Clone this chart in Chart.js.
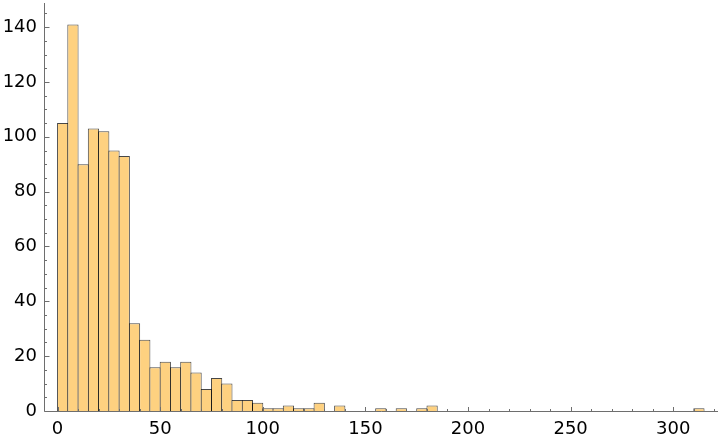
<!DOCTYPE html>
<html>
<head>
<meta charset="utf-8">
<script src="https://cdn.jsdelivr.net/npm/chart.js@4.4.1/dist/chart.umd.min.js"></script>
<style>
  html, body { margin: 0; padding: 0; background: #ffffff; }
  #wrap { width: 720px; height: 442px; }
</style>
</head>
<body>
<div id="wrap"><canvas id="c" width="720" height="442"></canvas></div>
<script>
// Histogram bins (lower edge of each non-empty bin, bin width 5)
const binStarts = [0, 5, 10, 15, 20, 25, 30, 35, 40, 45, 50, 55, 60, 65, 70, 75, 80, 85, 90, 95,
                   100, 105, 110, 115, 120, 125, 135, 155, 165, 175, 180, 310];
const counts    = [105, 141, 90, 103, 102, 95, 93, 32, 26, 16, 18, 16, 18, 14, 8, 12, 10, 4, 4, 3,
                   1, 1, 2, 1, 1, 3, 2, 1, 1, 1, 2, 1];
const binWidth = 5;
const xTicks = [0, 50, 100, 150, 200, 250, 300];
const yTicks = [0, 20, 40, 60, 80, 100, 120, 140];
const xMinorStep = 10;
const yMinorStep = 5;
const xRange = [-6.6, 321.8];
const yRange = [0, 148.8];

const points = binStarts.map((s, i) => ({ x: s + binWidth / 2, y: counts[i] }));

const axisColor = '#6e6e6e';

const tickPlugin = {
  id: 'mmaTicks',
  afterDatasetsDraw(chart) {
    const ctx = chart.ctx;
    const xs = chart.scales.x, ys = chart.scales.y;
    const a = chart.chartArea;
    const lx = Math.round(a.left) + 0.5;
    const by = Math.round(a.bottom) + 0.5;
    ctx.save();
    ctx.strokeStyle = axisColor;
    ctx.lineWidth = 1;
    ctx.beginPath();
    ctx.moveTo(lx, a.top);
    ctx.lineTo(lx, by);
    ctx.lineTo(a.right, by);
    ctx.stroke();
    ctx.beginPath();
    for (let v = yRange[0]; v <= yRange[1]; v += yMinorStep) {
      const py = Math.round(ys.getPixelForValue(v)) + 0.5;
      const len = yTicks.includes(v) ? 5 : 2.5;
      ctx.moveTo(lx, py);
      ctx.lineTo(lx + len, py);
    }
    for (let v = 0; v <= xRange[1]; v += xMinorStep) {
      const px = Math.round(xs.getPixelForValue(v)) + 0.5;
      const len = xTicks.includes(v) ? 4.5 : 2.5;
      ctx.moveTo(px, by);
      ctx.lineTo(px, by - len);
    }
    ctx.stroke();
    ctx.restore();
  }
};

const bw = 2.05 * binWidth;
new Chart(document.getElementById('c'), {
  type: 'bar',
  data: {
    datasets: [{
      data: points,
      backgroundColor: 'rgb(254, 209, 128)',
      borderColor: 'rgba(0, 0, 0, 0.72)',
      borderWidth: 1,
      borderSkipped: 'start',
      barPercentage: (bw + 1) / bw,
      categoryPercentage: 1.0
    }]
  },
  options: {
    responsive: false,
    animation: false,
    devicePixelRatio: 1,
    layout: { padding: { top: 3, right: 2, left: 0, bottom: 0 } },
    plugins: { legend: { display: false }, tooltip: { enabled: false } },
    scales: {
      x: {
        type: 'linear',
        offset: false,
        min: xRange[0],
        max: xRange[1],
        grid: { display: false, drawTicks: false },
        border: { display: false },
        afterBuildTicks: (s) => { s.ticks = xTicks.map(v => ({ value: v })); },
        afterFit: (s) => { s.height = 31; s.paddingLeft = 0; s.paddingRight = 0; },
        ticks: {
          autoSkip: false,
          maxRotation: 0,
          padding: 8,
          color: '#000000',
          font: { family: 'DejaVu Sans', size: 18 }
        }
      },
      y: {
        type: 'linear',
        min: yRange[0],
        max: yRange[1],
        grid: { display: false, drawTicks: false },
        border: { display: false },
        afterBuildTicks: (s) => { s.ticks = yTicks.map(v => ({ value: v })); },
        afterFit: (s) => { s.width = 44; s.paddingTop = 0; s.paddingBottom = 0; },
        ticks: {
          padding: 7,
          color: '#000000',
          font: { family: 'DejaVu Sans', size: 18 }
        }
      }
    }
  },
  plugins: [tickPlugin]
});
</script>
</body>
</html>
